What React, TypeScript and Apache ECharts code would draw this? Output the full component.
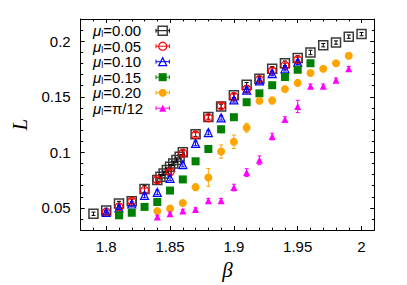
import React, { useEffect, useRef } from "react";
import * as echarts from "echarts";

// ---- data ----
const beta000 = [1.79, 1.8, 1.81, 1.82, 1.83, 1.84, 1.8425, 1.845, 1.8475, 1.85, 1.8525, 1.855, 1.8575, 1.86, 1.87, 1.88, 1.89, 1.9, 1.91, 1.92, 1.93, 1.94, 1.95, 1.96, 1.97, 1.98, 1.99, 2.0];
const L000 = [0.0447, 0.0477, 0.0539, 0.0559, 0.067, 0.075, 0.078, 0.081, 0.084, 0.087, 0.09, 0.093, 0.096, 0.1, 0.1163, 0.1319, 0.1413, 0.1513, 0.1608, 0.1663, 0.1752, 0.1802, 0.1849, 0.1899, 0.1964, 0.1988, 0.2041, 0.2064];
const E000 = [0.0015, 0.002, 0.002, 0.002, 0.003, 0.002, 0.002, 0.002, 0.002, 0.002, 0.002, 0.002, 0.002, 0.002, 0.002, 0.002, 0.002, 0.002, 0.002, 0.002, 0.002, 0.002, 0.002, 0.002, 0.0015, 0.0015, 0.0015, 0.0015];

const beta005 = [1.8, 1.81, 1.82, 1.83, 1.84, 1.85, 1.86, 1.87, 1.88, 1.89, 1.9, 1.91, 1.92, 1.93, 1.94, 1.95];
const L005 = [0.046, 0.0509, 0.0559, 0.0656, 0.0754, 0.0824, 0.0992, 0.1157, 0.1311, 0.1419, 0.1502, 0.1569, 0.1655, 0.1731, 0.1781, 0.1834];
const E005 = [0.0015, 0.002, 0.002, 0.002, 0.002, 0.002, 0.002, 0.002, 0.002, 0.002, 0.002, 0.002, 0.002, 0.002, 0.002, 0.002];

const beta010 = [1.8, 1.81, 1.82, 1.83, 1.84, 1.85, 1.86, 1.87, 1.88, 1.89, 1.9, 1.91, 1.92, 1.93, 1.94, 1.95];
const L010 = [0.046, 0.05, 0.0535, 0.0612, 0.0639, 0.0765, 0.0889, 0.108, 0.1178, 0.131, 0.1472, 0.156, 0.1643, 0.1708, 0.1752, 0.1811];
const E010 = [0.0015, 0.0015, 0.002, 0.002, 0.002, 0.002, 0.002, 0.002, 0.002, 0.002, 0.002, 0.002, 0.002, 0.002, 0.002, 0.002];

const beta015 = [1.81, 1.82, 1.83, 1.84, 1.85, 1.86, 1.87, 1.88, 1.89, 1.9, 1.91, 1.92, 1.93, 1.94, 1.95, 1.96];
const L015 = [0.0433, 0.0456, 0.0509, 0.0553, 0.0656, 0.0756, 0.0919, 0.103, 0.1207, 0.1316, 0.1451, 0.1531, 0.1604, 0.1678, 0.1743, 0.1802];
const E015 = [0.0015, 0.0015, 0.0015, 0.0015, 0.0015, 0.0015, 0.002, 0.003, 0.003, 0.002, 0.002, 0.002, 0.002, 0.002, 0.002, 0.002];

const beta020 = [1.84, 1.85, 1.86, 1.87, 1.88, 1.89, 1.9, 1.91, 1.92, 1.93, 1.94, 1.95, 1.96, 1.97, 1.98, 1.99];
const L020 = [0.0471, 0.0495, 0.0544, 0.0686, 0.0774, 0.1007, 0.1095, 0.1222, 0.1463, 0.1466, 0.1569, 0.1625, 0.1714, 0.1752, 0.1802, 0.1869];
const E020 = [0.0015, 0.0015, 0.0015, 0.003, 0.008, 0.006, 0.006, 0.004, 0.002, 0.003, 0.002, 0.003, 0.002, 0.002, 0.002, 0.002];

const betaPi12 = [1.84, 1.85, 1.86, 1.87, 1.88, 1.89, 1.9, 1.91, 1.92, 1.93, 1.94, 1.95, 1.96, 1.97, 1.98, 1.99];
const LPi12 = [0.0418, 0.0447, 0.0471, 0.0486, 0.0565, 0.0565, 0.0683, 0.0818, 0.0928, 0.1142, 0.1295, 0.1413, 0.1595, 0.1595, 0.1648, 0.1752];
const EPi12 = [0.0015, 0.0015, 0.0015, 0.0015, 0.002, 0.002, 0.003, 0.0035, 0.004, 0.003, 0.0025, 0.0055, 0.002, 0.002, 0.002, 0.002];

const legendValues = ["0.00", "0.05", "0.10", "0.15", "0.20", "π/12"];

const xMajorTicks = [1.8, 1.85, 1.9, 1.95, 2.0];
const xTickLabels = ["1.8", "1.85", "1.9", "1.95", "2"];
const yMajorTicks = [0.05, 0.1, 0.15, 0.2];
const yTickLabels = ["0.05", "0.1", "0.15", "0.2"];

const X_MIN = 1.78;
const X_MAX = 2.01;
const Y_MIN = 0.03;
const Y_MAX = 0.22;

const xMinorTicks: number[] = [];
for (let i = 0; i <= 23; i++) xMinorTicks.push(Math.round((1.78 + i * 0.01) * 1000) / 1000);
const yMinorTicks: number[] = [];
for (let i = 0; i <= 19; i++) yMinorTicks.push(Math.round((0.03 + i * 0.01) * 1000) / 1000);

type Sty = {
  color: string;
  symbol: string;
  size: number;
  filled: boolean;
  bw: number;
};

const styles: Sty[] = [
  { color: "#3a3a3a", symbol: "rect", size: 9, filled: false, bw: 1.5 },
  { color: "#ff0000", symbol: "circle", size: 8, filled: false, bw: 1.2 },
  { color: "#0000ff", symbol: "triangle", size: 8, filled: false, bw: 1.2 },
  { color: "#008000", symbol: "rect", size: 8, filled: true, bw: 0 },
  { color: "#ffa500", symbol: "circle", size: 8, filled: true, bw: 0 },
  { color: "#ff00ff", symbol: "triangle", size: 7, filled: true, bw: 0 },
];
const errColors = ["#000000", "#ff0000", "#0000ff", "#008000", "#ffa500", "#ff00ff"];

const datasets = [
  { b: beta000, l: L000, e: E000 },
  { b: beta005, l: L005, e: E005 },
  { b: beta010, l: L010, e: E010 },
  { b: beta015, l: L015, e: E015 },
  { b: beta020, l: L020, e: E020 },
  { b: betaPi12, l: LPi12, e: EPi12 },
];

const FONT = "'Liberation Sans', Arial, sans-serif";
const SERIF = "'Liberation Serif', 'Times New Roman', serif";

export default function App() {
  const ref = useRef<HTMLDivElement>(null);

  useEffect(() => {
    if (!ref.current) return;
    const chart = echarts.init(ref.current, null, { renderer: "svg" });

    const series: any[] = [];
    datasets.forEach((d, i) => {
      const s = styles[i];
      const ec = errColors[i];
      series.push({
        type: "scatter",
        name: legendValues[i],
        xAxisIndex: 0,
        yAxisIndex: 0,
        z: 2 + i * 2,
        symbol: s.symbol,
        symbolSize: s.size,
        data: d.b.map((b, k) => [b, d.l[k]]),
        itemStyle: s.filled
          ? { color: s.color, opacity: 1 }
          : { color: "rgba(0,0,0,0)", borderColor: s.color, borderWidth: s.bw, opacity: 1 },
      });
      series.push({
        type: "custom",
        xAxisIndex: 0,
        yAxisIndex: 0,
        z: 3 + i * 2,
        silent: true,
        data: d.b.map((b, k) => [b, d.l[k], d.e[k]]),
        renderItem: (params: any, api: any) => {
          const x = api.value(0);
          const y = api.value(1);
          const e = api.value(2);
          const p1 = api.coord([x, y + e]);
          const p2 = api.coord([x, y - e]);
          const w = 2;
          const st = { stroke: ec, lineWidth: 1 };
          return {
            type: "group",
            children: [
              { type: "line", shape: { x1: p1[0], y1: p1[1], x2: p2[0], y2: p2[1] }, style: st },
              { type: "line", shape: { x1: p1[0] - w, y1: p1[1], x2: p1[0] + w, y2: p1[1] }, style: st },
              { type: "line", shape: { x1: p2[0] - w, y1: p2[1], x2: p2[0] + w, y2: p2[1] }, style: st },
            ],
          };
        },
      });
    });

    // legend built from graphic elements
    const graphics: any[] = [];
    const lx = 93;
    const ly0 = 30.7;
    const dy = 15.5;
    const mx = 162.7;
    legendValues.forEach((v, i) => {
      const y = ly0 + dy * i;
      const s = styles[i];
      graphics.push({
        type: "text",
        x: lx,
        y: y,
        style: {
          text: `{mu|μ}{sub|l}{t|=${v}}`,
          verticalAlign: "middle",
          align: "left",
          fill: "#000",
          rich: {
            mu: { fontFamily: FONT, fontSize: 15, fontStyle: "italic", lineHeight: 16, verticalAlign: "middle" },
            sub: { fontFamily: FONT, fontSize: 9, lineHeight: 8, verticalAlign: "bottom" },
            t: { fontFamily: FONT, fontSize: 15, lineHeight: 16, verticalAlign: "middle" },
          },
        },
      });
      const ls = { stroke: errColors[i], lineWidth: 1 };
      graphics.push({ type: "line", shape: { x1: mx - 6.7, y1: y, x2: mx + 6.7, y2: y }, style: ls });
      graphics.push({ type: "line", shape: { x1: mx - 6.7, y1: y - 2, x2: mx - 6.7, y2: y + 2 }, style: ls });
      graphics.push({ type: "line", shape: { x1: mx + 6.7, y1: y - 2, x2: mx + 6.7, y2: y + 2 }, style: ls });
      const half = s.size / 2;
      const mstyle = s.filled
        ? { fill: s.color, stroke: s.color, lineWidth: 0 }
        : { fill: "none", stroke: s.color, lineWidth: s.bw };
      if (s.symbol === "rect") {
        graphics.push({ type: "rect", shape: { x: mx - half, y: y - half, width: s.size, height: s.size }, style: mstyle });
      } else if (s.symbol === "circle") {
        graphics.push({ type: "circle", shape: { cx: mx, cy: y, r: half }, style: mstyle });
      } else {
        graphics.push({
          type: "polygon",
          shape: { points: [[mx, y - half], [mx + half, y + half], [mx - half, y + half]] },
          style: mstyle,
        });
      }
    });

    const axisLine = { show: true, lineStyle: { color: "#000", width: 1 } };
    const baseX = { type: "value", min: X_MIN, max: X_MAX, splitLine: { show: false } };
    const baseY = { type: "value", min: Y_MIN, max: Y_MAX, splitLine: { show: false } };

    const option: any = {
      animation: false,
      backgroundColor: "#fff",
      grid: { left: 80.7, right: 32.7, top: 19, bottom: 51.7, containLabel: false },
      graphic: graphics,
      xAxis: [
        {
          ...baseX,
          position: "bottom",
          axisLine,
          axisTick: { show: true, inside: true, length: 4, customValues: xMajorTicks, lineStyle: { color: "#000" } },
          axisLabel: {
            show: true,
            customValues: xMajorTicks,
            formatter: (v: number) => {
              const idx = xMajorTicks.findIndex((t) => Math.abs(t - v) < 1e-9);
              return idx >= 0 ? xTickLabels[idx] : "";
            },
            fontFamily: FONT,
            fontSize: 15,
            color: "#000",
            margin: 9,
          },
          name: "β",
          nameLocation: "middle",
          nameGap: 26,
          nameTextStyle: { fontFamily: SERIF, fontStyle: "italic", fontSize: 21, color: "#000" },
        },
        {
          ...baseX,
          position: "bottom",
          axisLine: { show: false },
          axisTick: { show: true, inside: true, length: 2.5, customValues: xMinorTicks, lineStyle: { color: "#000" } },
          axisLabel: { show: false },
        },
        {
          ...baseX,
          position: "top",
          axisLine,
          axisTick: { show: true, inside: true, length: 4, customValues: xMajorTicks, lineStyle: { color: "#000" } },
          axisLabel: { show: false },
        },
        {
          ...baseX,
          position: "top",
          axisLine: { show: false },
          axisTick: { show: true, inside: true, length: 2.5, customValues: xMinorTicks, lineStyle: { color: "#000" } },
          axisLabel: { show: false },
        },
      ],
      yAxis: [
        {
          ...baseY,
          position: "left",
          axisLine,
          axisTick: { show: true, inside: true, length: 4, customValues: yMajorTicks, lineStyle: { color: "#000" } },
          axisLabel: {
            show: true,
            customValues: yMajorTicks,
            formatter: (v: number) => {
              const idx = yMajorTicks.findIndex((t) => Math.abs(t - v) < 1e-9);
              return idx >= 0 ? yTickLabels[idx] : "";
            },
            fontFamily: FONT,
            fontSize: 15,
            color: "#000",
            margin: 10,
          },
          name: "L",
          nameLocation: "middle",
          nameRotate: 90,
          nameGap: 47,
          nameTextStyle: { fontFamily: SERIF, fontStyle: "italic", fontSize: 21, color: "#000" },
        },
        {
          ...baseY,
          position: "left",
          axisLine: { show: false },
          axisTick: { show: true, inside: true, length: 2.5, customValues: yMinorTicks, lineStyle: { color: "#000" } },
          axisLabel: { show: false },
        },
        {
          ...baseY,
          position: "right",
          axisLine,
          axisTick: { show: true, inside: true, length: 4, customValues: yMajorTicks, lineStyle: { color: "#000" } },
          axisLabel: { show: false },
        },
        {
          ...baseY,
          position: "right",
          axisLine: { show: false },
          axisTick: { show: true, inside: true, length: 2.5, customValues: yMinorTicks, lineStyle: { color: "#000" } },
          axisLabel: { show: false },
        },
      ],
      series,
    };

    chart.setOption(option);
    return () => {
      chart.dispose();
    };
  }, []);

  return <div ref={ref} style={{ width: 407, height: 285, position: "absolute", left: 0, top: 0 }} />;
}
